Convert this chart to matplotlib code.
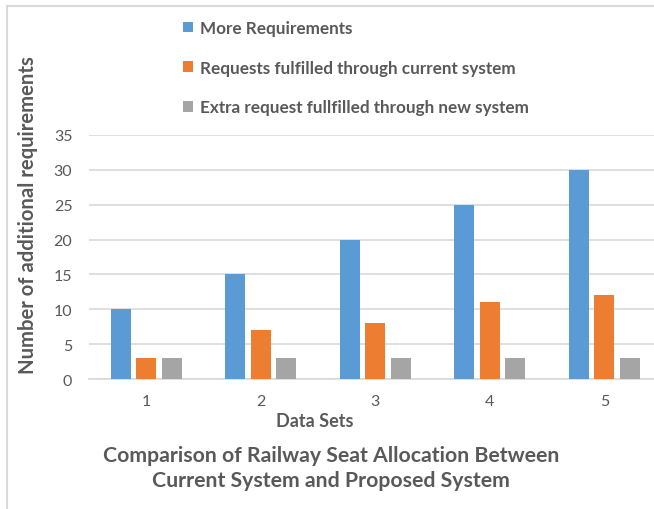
import numpy as np
import matplotlib
matplotlib.use("Agg")
import matplotlib.pyplot as plt
from matplotlib.patches import Rectangle

# Data
data_sets = [1, 2, 3, 4, 5]
more_requirements = [10, 15, 20, 25, 30]
fulfilled_current = [3, 7, 8, 11, 12]
extra_new_system = [3, 3, 3, 3, 3]

series_names = [
    "More Requirements",
    "Requests fulfilled through current system",
    "Extra request fullfilled through new system",
]
series_colors = ["#5B9BD5", "#ED7D31", "#A5A5A5"]
y_ticks = [0, 5, 10, 15, 20, 25, 30, 35]

plt.rcParams["font.family"] = ["Lato", "DejaVu Sans"]
text_color = "#595959"
grid_color = "#D9D9D9"

W, H = 654, 510
fig = plt.figure(figsize=(W / 100, H / 100), dpi=100)

def fx(px):
    return px / W

def fy(py):
    return 1 - py / H

# chart frame
fig.patches.append(Rectangle((fx(7), fy(560)), fx(700), fy(7) - fy(560),
                             transform=fig.transFigure, fill=False,
                             edgecolor=grid_color, linewidth=1.5))

ax = fig.add_axes([fx(89), fy(380), fx(661.5) - fx(89), fy(136) - fy(380)])
x = np.arange(len(data_sets)) + 1
width = 0.175
offset = 0.223
for i, (vals, name, col) in enumerate(zip(
        [more_requirements, fulfilled_current, extra_new_system],
        series_names, series_colors)):
    ax.bar(x + (i - 1) * offset, vals, width=width, color=col, label=name,
           zorder=3)

ax.set_xlim(0.5, 5.5)
ax.set_ylim(0, 35)
ax.set_yticks(y_ticks)
ax.set_xticks(x)
ax.set_xticklabels([str(d) for d in data_sets])
ax.yaxis.grid(True, color=grid_color, linewidth=1.2, zorder=0)
ax.set_axisbelow(True)
for s in ["top", "right", "left"]:
    ax.spines[s].set_visible(False)
ax.spines["bottom"].set_color(grid_color)
ax.spines["bottom"].set_linewidth(1.2)
ax.tick_params(axis="both", length=0, colors=text_color, labelsize=11.5)
ax.tick_params(axis="y", pad=12)
ax.tick_params(axis="x", pad=11)

fig.text(fx(315), fy(422), "Data Sets", ha="center", va="center",
         fontsize=13, fontweight="bold", color=text_color)
fig.text(fx(28), fy(215), "Number of additional requirements", ha="center",
         va="center", rotation=90, fontsize=14.6, fontweight="bold",
         color=text_color)

fig.text(fx(331), fy(456), "Comparison of Railway Seat Allocation Between",
         ha="center", va="center", fontsize=15.3, fontweight="bold",
         color=text_color)
fig.text(fx(331), fy(481), "Current System and Proposed System",
         ha="center", va="center", fontsize=15.3, fontweight="bold",
         color=text_color)

fig.legend(loc="upper left", bbox_to_anchor=(fx(183), fy(21)),
           frameon=False, prop={"weight": "bold", "size": 12.3},
           handlelength=0.6, handleheight=0.6, handletextpad=0.4,
           labelspacing=1.38, borderpad=0, borderaxespad=0,
           labelcolor=text_color)

fig.savefig("out.png", dpi=100)
